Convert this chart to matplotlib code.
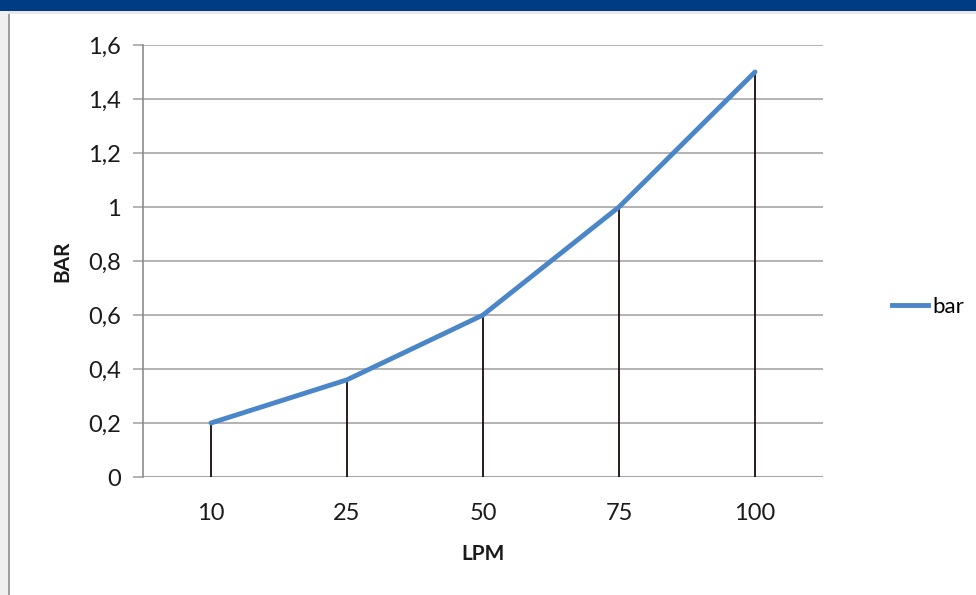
import matplotlib
matplotlib.use("Agg")
import matplotlib.pyplot as plt
from matplotlib.patches import Rectangle
from matplotlib.lines import Line2D

categories = ["10", "25", "50", "75", "100"]
bar_values = [0.2, 0.36, 0.6, 1.0, 1.5]
y_ticks = [0, 0.2, 0.4, 0.6, 0.8, 1.0, 1.2, 1.4, 1.6]
y_tick_labels = ["0", "0,2", "0,4", "0,6", "0,8", "1", "1,2", "1,4", "1,6"]

plt.rcParams['font.family'] = ['Lato', 'DejaVu Sans']

W, H = 976, 595
fig = plt.figure(figsize=(W / 100, H / 100), dpi=100)
fig.patch.set_facecolor("white")

# banner and frame
fig.patches.append(Rectangle((0, 1 - 11 / H), 1, 11 / H, transform=fig.transFigure,
                             facecolor="#003c84", edgecolor="none", zorder=0))
fig.patches.append(Rectangle((0, 1 - 14 / H), 1, 3 / H, transform=fig.transFigure,
                             facecolor="#e6e6e6", edgecolor="none", zorder=0))
fig.patches.append(Rectangle((0, 0), 8 / W, 1 - 11 / H, transform=fig.transFigure,
                             facecolor="#f0f0f0", edgecolor="none", zorder=0))
fig.patches.append(Rectangle((8 / W, 0), 2 / W, 1 - 14 / H, transform=fig.transFigure,
                             facecolor="#a0a0a0", edgecolor="none", zorder=0))

left, right = 143 / W, 823 / W
bottom, top = 1 - 477 / H, 1 - 45 / H
ax = fig.add_axes([left, bottom, right - left, top - bottom])
x = list(range(len(categories)))

ax.set_xlim(-0.5, len(categories) - 0.5)
ax.set_ylim(0, 1.6)
ax.set_yticks(y_ticks)
ax.set_yticklabels(y_tick_labels)
ax.set_xticks(x)
ax.set_xticklabels(categories)

ax.grid(axis="y", color="#a6a6a6", linewidth=1.2)
ax.set_axisbelow(True)
for s in ["top", "right", "bottom"]:
    ax.spines[s].set_visible(False)
ax.spines["left"].set_color("#8c8c8c")
ax.spines["left"].set_linewidth(1.2)
ax.axhline(0, color="#a6a6a6", linewidth=1.5, zorder=1)

ax.tick_params(axis="y", length=7, color="#a6a6a6", width=1.2, labelsize=17, pad=9,
               labelcolor="#1a1a1a")
ax.tick_params(axis="x", length=0, labelsize=17, pad=19, labelcolor="#1a1a1a")

ax.vlines(x, 0, bar_values, color="#1a0a0a", linewidth=1.3, zorder=2)
ax.plot(x, bar_values, color="#4a86c8", linewidth=3.5, zorder=3,
        solid_capstyle="round")

ax.set_ylabel("BAR", fontsize=15, fontweight="bold", labelpad=11, color="#1a1a1a")
ax.set_xlabel("LPM", fontsize=15, fontweight="bold", labelpad=14, color="#1a1a1a")

handle = Line2D([], [], color="#4a86c8", linewidth=3.5)
fig.legend([handle], ["bar"], loc="center left", bbox_to_anchor=(892 / W, 1 - 307 / H),
           frameon=False, fontsize=16, handlelength=1.6, handletextpad=0.2,
           borderaxespad=0, borderpad=0)

fig.savefig("out.png", dpi=100, facecolor=fig.get_facecolor())
